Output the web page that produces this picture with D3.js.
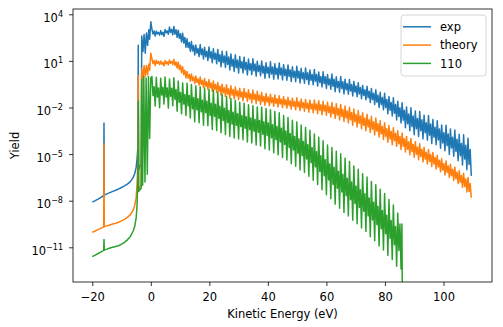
<!DOCTYPE html>
<html>
<head>
<meta charset="utf-8">
<script src="https://cdn.jsdelivr.net/npm/d3@7"></script>
<style>
  body { margin: 0; background: #fff; }
  svg { display: block; }
  text { font-family: "DejaVu Sans", sans-serif; }
</style>
</head>
<body>
<div id="chart"></div>
<script>
const W = 503
const H = 327
const M = { left: 73, top: 9, right: 11, bottom: 45 }
const FONT = 11.5

const seriesNames = ['exp', 'theory', '110']
const colors = ['#1f77b4', '#ff7f0e', '#2ca02c']
const xTicks = [-20, 0, 20, 40, 60, 80, 100]
const yTickExps = [4, 1, -2, -5, -8, -11]

// below the edge: [energy (eV), log10 yield]
const expPre = [
  [-20, -8.09], [-19, -8.0], [-18, -7.9], [-17, -7.78], [-16.1, -7.66], [-16, -3.0], [-15.9, -7.64],
  [-15, -7.56], [-14, -7.48], [-13, -7.4], [-12, -7.33], [-11, -7.24], [-10, -7.15], [-9, -7.05],
  [-8, -6.93], [-7, -6.77], [-6, -6.5], [-5.5, -6.25], [-5, -5.85], [-4.7, -5.3], [-4.4, -4.5],
  [-4.3, 2.0], [-4.15, -6.0], [-3.3, -5.6], [-3.1, 2.6], [-2.7, 1.6], [-2.3, 2.7], [-1.9, 1.5],
  [-1.5, 2.8], [-1.1, 2.0], [-0.7, 3.0], [-0.4, 2.4], [0, 3.52],
]
const theoryPre = [
  [-20, -10.04], [-19, -9.95], [-18, -9.86], [-17, -9.77], [-16.1, -9.69], [-16, -4.35], [-15.9, -9.67],
  [-15, -9.62], [-14, -9.56], [-13, -9.5], [-12, -9.45], [-11, -9.39], [-10, -9.3], [-9, -9.2],
  [-8, -9.07], [-7, -8.9], [-6, -8.6], [-5.5, -8.3], [-5, -7.8], [-4.7, -7.0], [-4.45, -5.5],
  [-4.3, 0.05], [-4.15, -7.3], [-3.3, -7.0], [-3.1, 0.5], [-2.7, -0.2], [-2.3, 0.7], [-1.9, 0.0],
  [-1.5, 0.7], [-1.1, 0.1], [-0.7, 0.8], [-0.4, 0.4], [0, 1.5],
]
const pre110 = [
  [-20, -11.6], [-19, -11.5], [-18, -11.4], [-17, -11.29], [-16.1, -11.2], [-16, -10.5], [-15.9, -11.18],
  [-15, -11.12], [-14, -11.05], [-13, -11.0], [-12, -10.95], [-11, -10.9], [-10, -10.8], [-9, -10.68],
  [-8, -10.52], [-7, -10.3], [-6, -9.95], [-5.5, -9.65], [-5, -9.1], [-4.7, -8.3], [-4.45, -6.5],
  [-4.3, -1.6], [-4.15, -7.4], [-3.3, -7.2], [-3.1, -0.2], [-2.8, -7.0], [-2.4, 0.0], [-2.0, -6.8],
  [-1.6, -0.1], [-1.2, -6.3], [-0.8, 0.0], [-0.4, -4.0], [0, -0.1],
]

// fast oscillation above the edge (log10 yield):
// maxima at 0.375 + 0.75j eV, minima at 0.75 + 0.75j eV
const expHi = [
  3.05, 2.92, 2.92, 2.84, 2.95, 2.84, 3.02, 2.93, 3.18, 3.03,
  3.22, 3.01, 2.98, 2.75, 2.78, 2.51, 2.42, 2.18, 2.25, 1.99,
  2.02, 1.8, 2.05, 1.77, 1.88, 1.62, 1.9, 1.59, 1.78, 1.49,
  1.74, 1.4, 1.62, 1.31, 1.6, 1.25, 1.44, 1.1, 1.4, 1.05,
  1.28, 0.96, 1.24, 0.9, 1.12, 0.82, 1.14, 0.8, 0.98, 0.7,
  1.0, 0.66, 0.88, 0.59, 0.94, 0.6, 0.82, 0.53, 0.86, 0.54,
  0.76, 0.46, 0.74, 0.42, 0.62, 0.33, 0.66, 0.34, 0.52, 0.23,
  0.55, 0.23, 0.42, 0.13, 0.44, 0.12, 0.28, -0.01, 0.3, -0.02,
  0.12, -0.16, 0.16, -0.18, -0.02, -0.32, 0.0, -0.34, -0.18, -0.47,
  -0.2, -0.52, -0.32, -0.61, -0.4, -0.71, -0.58, -0.86, -0.64, -0.95,
  -0.78, -1.09, -0.86, -1.2, -1.02, -1.36, -1.08, -1.48, -1.3, -1.68,
  -1.38, -1.81, -1.6, -2.02, -1.7, -2.18, -1.96, -2.42, -2.02, -2.54,
  -2.22, -2.71, -2.26, -2.79, -2.5, -2.98, -2.52, -3.06, -2.78, -3.27,
  -2.86, -3.39, -3.12, -3.62, -3.15, -3.71, -3.38, -3.91, -3.45, -4.04,
  -3.72, -4.31, -3.75, -4.43, -3.98, -4.71,
]
const expLo = [
  2.73, 2.6, 2.74, 2.66, 2.69, 2.58, 2.81, 2.72, 2.83, 2.68,
  2.73, 2.52, 2.45, 2.22, 2.15, 1.88, 1.86, 1.62, 1.64, 1.38,
  1.5, 1.28, 1.4, 1.12, 1.28, 1.02, 1.19, 0.88, 1.11, 0.82,
  0.96, 0.62, 0.89, 0.58, 0.77, 0.42, 0.66, 0.32, 0.57, 0.22,
  0.54, 0.22, 0.44, 0.1, 0.42, 0.12, 0.36, 0.02, 0.32, 0.04,
  0.22, -0.12, 0.21, -0.08, 0.16, -0.18, 0.13, -0.16, 0.1, -0.22,
  0.06, -0.24, 0.0, -0.32, -0.05, -0.34, -0.1, -0.42, -0.15, -0.44,
  -0.2, -0.52, -0.25, -0.54, -0.3, -0.62, -0.39, -0.68, -0.46, -0.78,
  -0.54, -0.82, -0.64, -0.98, -0.72, -1.02, -0.78, -1.12, -0.85, -1.14,
  -0.94, -1.26, -1.01, -1.3, -1.13, -1.44, -1.22, -1.5, -1.37, -1.68,
  -1.49, -1.8, -1.66, -2.0, -1.81, -2.15, -2.0, -2.4, -2.17, -2.55,
  -2.37, -2.8, -2.58, -3.0, -2.82, -3.3, -3.04, -3.5, -3.23, -3.75,
  -3.37, -3.86, -3.49, -4.02, -3.62, -4.1, -3.78, -4.32, -3.91, -4.4,
  -4.09, -4.62, -4.28, -4.78, -4.46, -5.02, -4.61, -5.14, -4.83, -5.42,
  -5.11, -5.7, -5.32, -6.0, -5.67, -6.4,
]
const theoryHi = [
  1.15, 1.02, 1.04, 0.96, 1.0, 0.9, 1.02, 0.94, 1.06, 0.97,
  1.1, 0.93, 0.92, 0.72, 0.62, 0.4, 0.32, 0.13, 0.16, -0.03,
  0.02, -0.15, -0.04, -0.24, -0.14, -0.35, -0.2, -0.43, -0.3, -0.52,
  -0.38, -0.63, -0.5, -0.73, -0.54, -0.8, -0.6, -0.85, -0.68, -0.93,
  -0.76, -1.0, -0.78, -1.03, -0.86, -1.11, -0.88, -1.14, -0.96, -1.21,
  -1.04, -1.29, -1.1, -1.33, -1.14, -1.37, -1.2, -1.43, -1.24, -1.47,
  -1.3, -1.52, -1.34, -1.57, -1.4, -1.62, -1.38, -1.63, -1.46, -1.69,
  -1.48, -1.73, -1.52, -1.77, -1.52, -1.78, -1.56, -1.83, -1.6, -1.87,
  -1.66, -1.94, -1.68, -1.99, -1.76, -2.07, -1.8, -2.13, -1.9, -2.23,
  -1.98, -2.33, -2.1, -2.45, -2.2, -2.55, -2.34, -2.69, -2.44, -2.79,
  -2.56, -2.92, -2.68, -3.05, -2.86, -3.22, -2.98, -3.36, -3.16, -3.53,
  -3.3, -3.66, -3.5, -3.86, -3.64, -4.01, -3.86, -4.21, -4.0, -4.36,
  -4.2, -4.55, -4.34, -4.69, -4.56, -4.88, -4.7, -5.03, -4.9, -5.22,
  -5.08, -5.4, -5.3, -5.61, -5.44, -5.76, -5.66, -5.97, -5.84, -6.16,
  -6.06, -6.38, -6.24, -6.6, -6.5, -6.89,
]
const theoryLo = [
  0.83, 0.7, 0.84, 0.76, 0.78, 0.68, 0.82, 0.74, 0.85, 0.76,
  0.71, 0.54, 0.44, 0.24, 0.12, -0.1, -0.11, -0.3, -0.27, -0.46,
  -0.39, -0.56, -0.52, -0.72, -0.63, -0.84, -0.73, -0.96, -0.82, -1.04,
  -0.95, -1.2, -1.05, -1.28, -1.14, -1.4, -1.19, -1.44, -1.25, -1.5,
  -1.32, -1.56, -1.35, -1.6, -1.45, -1.7, -1.48, -1.74, -1.55, -1.8,
  -1.61, -1.86, -1.65, -1.88, -1.69, -1.92, -1.73, -1.96, -1.77, -2.0,
  -1.82, -2.04, -1.87, -2.1, -1.92, -2.14, -1.95, -2.2, -2.01, -2.24,
  -2.05, -2.3, -2.09, -2.34, -2.14, -2.4, -2.19, -2.46, -2.23, -2.5,
  -2.32, -2.6, -2.39, -2.7, -2.49, -2.8, -2.57, -2.9, -2.67, -3.0,
  -2.79, -3.14, -2.91, -3.26, -3.01, -3.36, -3.15, -3.5, -3.25, -3.6,
  -3.4, -3.76, -3.53, -3.9, -3.7, -4.06, -3.86, -4.24, -4.03, -4.4,
  -4.14, -4.5, -4.34, -4.7, -4.49, -4.86, -4.69, -5.04, -4.84, -5.2,
  -5.01, -5.36, -5.15, -5.5, -5.32, -5.64, -5.47, -5.8, -5.64, -5.96,
  -5.82, -6.14, -6.03, -6.34, -6.18, -6.5, -6.39, -6.7, -6.58, -6.9,
  -6.82, -7.14, -7.08, -7.44, -7.41, -7.8,
]
const hi110 = [
  0.0, -0.66, -0.06, -0.75, -0.12, -0.7, -0.04, -0.74, -0.16, -0.76,
  -0.08, -0.84, -0.3, -1.04, -0.42, -1.16, -0.44, -1.22, -0.52, -1.36,
  -0.6, -1.43, -0.66, -1.53, -0.74, -1.59, -0.82, -1.73, -0.88, -1.79,
  -1.0, -1.92, -1.14, -2.05, -1.3, -2.2, -1.42, -2.31, -1.54, -2.41,
  -1.66, -2.51, -1.72, -2.6, -1.82, -2.68, -1.88, -2.77, -1.96, -2.84,
  -1.98, -2.92, -2.06, -3.0, -2.14, -3.11, -2.26, -3.23, -2.34, -3.34,
  -2.52, -3.52, -2.64, -3.68, -2.82, -3.86, -2.94, -4.02, -3.12, -4.19,
  -3.28, -4.38, -3.46, -4.59, -3.7, -4.84, -3.92, -5.1, -4.14, -5.36,
  -4.42, -5.63, -4.58, -5.85, -4.82, -6.1, -4.98, -6.3, -5.26, -6.56,
  -5.48, -6.8, -5.76, -7.06, -5.98, -7.3, -6.26, -7.56, -6.48, -7.82,
  -6.76, -8.1, -6.98, -8.36, -7.26, -8.63, -7.54, -8.93, -7.92, -9.27,
  -8.28, -9.66, -8.8, -9.5,
]
const lo110 = [
  -1.24, -1.9, -1.33, -2.02, -1.2, -1.78, -1.34, -2.04, -1.28, -1.88,
  -1.48, -2.24, -1.66, -2.4, -1.78, -2.52, -1.9, -2.68, -2.08, -2.92,
  -2.15, -2.98, -2.27, -3.14, -2.33, -3.18, -2.51, -3.42, -2.57, -3.48,
  -2.7, -3.62, -2.83, -3.74, -2.96, -3.86, -3.07, -3.96, -3.15, -4.02,
  -3.23, -4.08, -3.34, -4.22, -3.42, -4.28, -3.53, -4.42, -3.6, -4.48,
  -3.72, -4.66, -3.8, -4.74, -3.95, -4.92, -4.07, -5.04, -4.22, -5.22,
  -4.38, -5.38, -4.58, -5.62, -4.74, -5.78, -4.94, -6.02, -5.11, -6.18,
  -5.32, -6.42, -5.55, -6.68, -5.82, -6.96, -6.12, -7.3, -6.4, -7.62,
  -6.67, -7.88, -6.95, -8.22, -7.2, -8.48, -7.44, -8.76, -7.68, -8.98,
  -7.94, -9.26, -8.18, -9.48, -8.44, -9.76, -8.68, -9.98, -8.98, -10.32,
  -9.24, -10.58, -9.54, -10.92, -9.81, -11.18, -10.13, -11.52, -10.43, -11.78,
  -10.84, -12.22, -11.2, -12.4,
]
const tail110 = [[85.8, -9.5], [86.0, -16]]

const buildSeries = (pre, hi, lo, tail = []) => {
  const pts = pre.map(([e, v]) => ({ e, v }))
  hi.forEach((v, j) => {
    pts.push({ e: 0.375 + 0.75 * j, v })
    if (j < lo.length) pts.push({ e: 0.75 + 0.75 * j, v: lo[j] })
  })
  tail.forEach(([e, v]) => pts.push({ e, v }))
  return pts
}

const series = [
  buildSeries(expPre, expHi, expLo),
  buildSeries(theoryPre, theoryHi, theoryLo),
  buildSeries(pre110, hi110, lo110, tail110),
]

const svg = d3.select('#chart').append('svg').attr('width', W).attr('height', H)
svg.append('rect').attr('width', W).attr('height', H).attr('fill', '#ffffff')

const x = d3.scaleLinear().domain([-26.59, 116.58]).range([M.left, W - M.right])
const y = d3.scaleLog().domain([10 ** -13.234, 10 ** 4.341]).range([H - M.bottom, M.top])

svg.append('clipPath').attr('id', 'plot-clip')
  .append('rect')
  .attr('x', M.left).attr('y', M.top)
  .attr('width', W - M.left - M.right).attr('height', H - M.top - M.bottom)

const line = d3.line().x(d => x(d.e)).y(d => y(10 ** d.v))

const plot = svg.append('g').attr('clip-path', 'url(#plot-clip)')
series.forEach((pts, i) => {
  plot.append('path')
    .attr('d', line(pts))
    .attr('fill', 'none')
    .attr('stroke', colors[i])
    .attr('stroke-width', 1.5)
    .attr('stroke-linejoin', 'round')
})

// axes
const xAxis = svg.append('g')
  .attr('transform', `translate(0, ${H - M.bottom})`)
  .call(d3.axisBottom(x).tickValues(xTicks).tickSize(4).tickSizeOuter(0)
    .tickFormat(d => (d < 0 ? '\u2212' + Math.abs(d) : d)))
xAxis.select('.domain').remove()
xAxis.selectAll('line').attr('stroke', '#000').attr('stroke-width', 0.8)
xAxis.selectAll('text')
  .attr('font-size', FONT).attr('font-family', 'DejaVu Sans').attr('fill', '#000')
  .attr('y', 18.8).attr('dy', 0)

const yAxis = svg.append('g')
  .attr('transform', `translate(${M.left}, 0)`)
  .call(d3.axisLeft(y).tickValues(yTickExps.map(e => 10 ** e)).tickSize(4).tickFormat(''))
yAxis.select('.domain').remove()
yAxis.selectAll('line').attr('stroke', '#000').attr('stroke-width', 0.8)
yAxis.selectAll('.tick').each(function (d) {
  const exp = Math.round(Math.log10(d))
  const t = d3.select(this).select('text')
    .attr('x', -10).attr('y', 7).attr('dy', 0)
    .attr('text-anchor', 'end')
    .attr('font-size', FONT).attr('font-family', 'DejaVu Sans').attr('fill', '#000')
  t.append('tspan').text('10')
  t.append('tspan').attr('font-size', FONT * 0.7).attr('dy', -5)
    .text(exp < 0 ? '\u2212' + Math.abs(exp) : exp)
})

// frame
svg.append('rect')
  .attr('x', M.left).attr('y', M.top)
  .attr('width', W - M.left - M.right).attr('height', H - M.top - M.bottom)
  .attr('fill', 'none').attr('stroke', '#000').attr('stroke-width', 0.8)

svg.append('text')
  .attr('x', (M.left + W - M.right) / 2).attr('y', 317.5)
  .attr('text-anchor', 'middle').attr('font-size', FONT).attr('fill', '#000')
  .text('Kinetic Energy (eV)')

svg.append('text')
  .attr('transform', `translate(19, ${(M.top + H - M.bottom) / 2}) rotate(-90)`)
  .attr('text-anchor', 'middle').attr('font-size', FONT).attr('fill', '#000')
  .text('Yield')

// legend
const legend = svg.append('g').attr('transform', 'translate(401, 15)')
legend.append('rect')
  .attr('width', 85).attr('height', 61).attr('rx', 3)
  .attr('fill', '#ffffff').attr('fill-opacity', 0.8)
  .attr('stroke', '#cccccc').attr('stroke-width', 0.8)
seriesNames.forEach((name, i) => {
  const row = legend.append('g').attr('transform', `translate(0, ${16 + i * 18.3})`)
  row.append('line')
    .attr('x1', 2).attr('x2', 30).attr('y1', -4.2).attr('y2', -4.2)
    .attr('stroke', colors[i]).attr('stroke-width', 1.5)
  row.append('text')
    .attr('x', 39).attr('y', 0)
    .attr('font-size', FONT).attr('fill', '#000')
    .text(name)
})
</script>
</body>
</html>
